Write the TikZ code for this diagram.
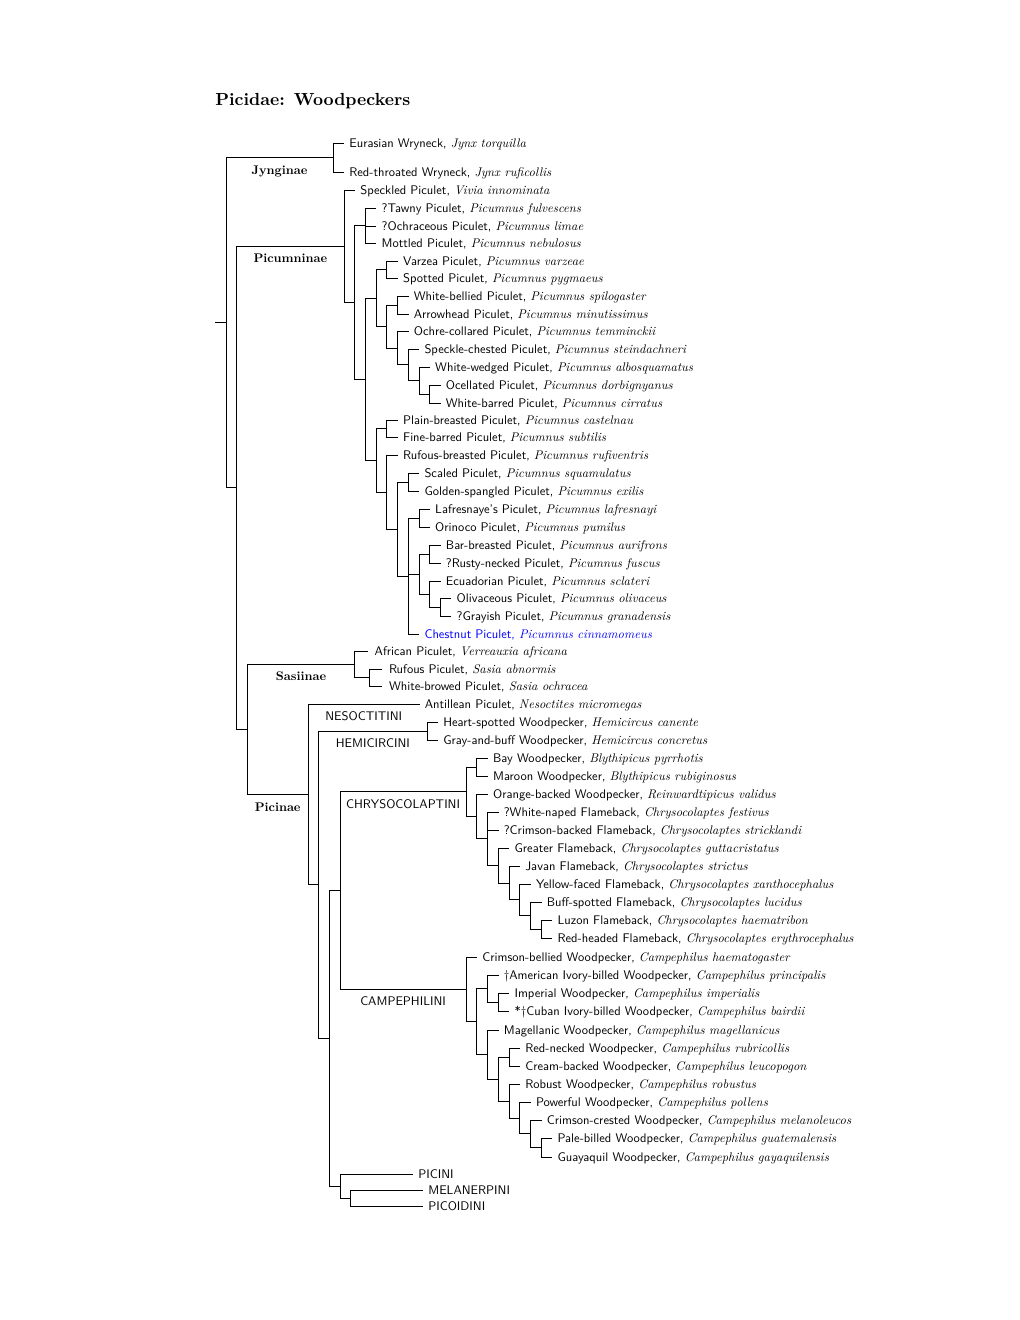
\documentclass[tikz,border=0pt]{standalone}
\usepackage{amsmath,amssymb}
\usepackage{graphicx}
\usepackage{tikz}

\newcommand{\smtxt}[1]{\scalebox{.75}{#1}}
\newcommand{\bird}[2]{\smtxt{\textsf{#1,} \textit{#2}}}

\begin{document}
\begin{tikzpicture}[x=0.6pt,y=-0.6pt,
  leaf/.style={anchor=west,inner xsep=3pt,inner ysep=0pt,text height=6pt,text depth=0.4pt,font=\fontsize{10}{12}\selectfont},
  grp/.style={anchor=base,yshift=-10pt,inner sep=0pt,font=\fontsize{10}{12}\selectfont\bfseries},
  tribe/.style={anchor=base,yshift=-10pt,inner sep=0pt,font=\fontsize{10}{12}\selectfont\sffamily}]
\useasboundingbox (0,0) rectangle (1020,1320);

\node[anchor=base west,inner sep=0pt,font=\fontsize{10.5}{12}\selectfont\bfseries] (title) at (215,105) {Picidae: Woodpeckers};

% inner nodes
\coordinate (base) at (215,322.6);
\coordinate (root) at (226,322.6);
\coordinate (jyn) at (333,157.5);
\coordinate (v2) at (236.7,487.7);
\coordinate (v3) at (247.4,729.3);
\coordinate (pcm) at (344,246.15);
\coordinate (a1) at (354.7,302.3);
\coordinate (t1) at (365.4,225.5);
\coordinate (b1) at (365.4,379.1);
\coordinate (c1) at (376.1,298);
\coordinate (vp) at (386.8,269.5);
\coordinate (e1) at (386.8,326.45);
\coordinate (wb) at (397.5,305);
\coordinate (o1) at (397.5,347.9);
\coordinate (o2) at (408.2,364.75);
\coordinate (o3) at (418.9,380.5);
\coordinate (o4) at (429.6,394);
\coordinate (d1) at (376.1,460.25);
\coordinate (pp) at (386.8,428.5);
\coordinate (g1) at (386.8,492);
\coordinate (h1) at (397.5,529);
\coordinate (sp) at (408.2,482);
\coordinate (i1) at (408.2,576);
\coordinate (lp) at (418.9,518);
\coordinate (f1) at (418.9,574);
\coordinate (bp) at (429.6,554);
\coordinate (ec) at (429.6,594);
\coordinate (op) at (440.3,607);
\coordinate (sas) at (354.7,664.25);
\coordinate (sa) at (369,677.5);
\coordinate (pcn) at (308,794.4);
\coordinate (p2) at (318.7,884.75);
\coordinate (hem) at (427,731);
\coordinate (p3) at (329.4,1038.5);
\coordinate (p4) at (340.1,890.5);
\coordinate (chr) at (466,791.7);
\coordinate (bb) at (476.75,767);
\coordinate (c2) at (476.75,816.35);
\coordinate (c3) at (487.5,838.7);
\coordinate (c4) at (498.25,865.4);
\coordinate (c5) at (509,882.9);
\coordinate (c6) at (519.75,899.75);
\coordinate (c7) at (530.5,915.5);
\coordinate (c8) at (541.25,929);
\coordinate (cmp) at (466,989.25);
\coordinate (k1) at (476.75,1021.5);
\coordinate (k2) at (487.5,988.5);
\coordinate (k4) at (498.25,1002);
\coordinate (k3) at (487.5,1054.5);
\coordinate (k5) at (498.25,1079);
\coordinate (rn) at (509,1057);
\coordinate (k6) at (509,1101);
\coordinate (k7) at (519.75,1117.9);
\coordinate (k8) at (530.5,1133.75);
\coordinate (k9) at (541.25,1147.5);
\coordinate (p5) at (340.1,1186);
\coordinate (pm) at (350.8,1198);

% Jynginae
\node[leaf] (eur) at (344,143) {\bird{Eurasian Wryneck}{Jynx torquilla}};
\node[leaf] (rtw) at (344,172) {\bird{Red-throated Wryneck}{Jynx ruficollis}};
% Picumninae
\node[leaf] (spk) at (355,190) {\bird{Speckled Piculet}{Vivia innominata}};
\node[leaf] (taw) at (376.4,208) {\bird{?Tawny Piculet}{Picumnus fulvescens}};
\node[leaf] (och) at (376.4,226) {\bird{?Ochraceous Piculet}{Picumnus limae}};
\node[leaf] (mot) at (376.4,243) {\bird{Mottled Piculet}{Picumnus nebulosus}};
\node[leaf] (var) at (397.8,261) {\bird{Varzea Piculet}{Picumnus varzeae}};
\node[leaf] (spo) at (397.8,278) {\bird{Spotted Piculet}{Picumnus pygmaeus}};
\node[leaf] (wbe) at (408.5,296) {\bird{White-bellied Piculet}{Picumnus spilogaster}};
\node[leaf] (arr) at (408.5,314) {\bird{Arrowhead Piculet}{Picumnus minutissimus}};
\node[leaf] (occ) at (408.5,331) {\bird{Ochre-collared Piculet}{Picumnus temminckii}};
\node[leaf] (spc) at (419.2,349) {\bird{Speckle-chested Piculet}{Picumnus steindachneri}};
\node[leaf] (wwe) at (429.9,367) {\bird{White-wedged Piculet}{Picumnus albosquamatus}};
\node[leaf] (oce) at (440.6,385) {\bird{Ocellated Piculet}{Picumnus dorbignyanus}};
\node[leaf] (wba) at (440.6,403) {\bird{White-barred Piculet}{Picumnus cirratus}};
\node[leaf] (plb) at (397.8,420) {\bird{Plain-breasted Piculet}{Picumnus castelnau}};
\node[leaf] (fib) at (397.8,437) {\bird{Fine-barred Piculet}{Picumnus subtilis}};
\node[leaf] (rub) at (397.8,455) {\bird{Rufous-breasted Piculet}{Picumnus rufiventris}};
\node[leaf] (sca) at (419.2,473) {\bird{Scaled Piculet}{Picumnus squamulatus}};
\node[leaf] (gos) at (419.2,491) {\bird{Golden-spangled Piculet}{Picumnus exilis}};
\node[leaf] (laf) at (429.9,509) {\bird{Lafresnaye's Piculet}{Picumnus lafresnayi}};
\node[leaf] (ori) at (429.9,527) {\bird{Orinoco Piculet}{Picumnus pumilus}};
\node[leaf] (bab) at (440.6,545) {\bird{Bar-breasted Piculet}{Picumnus aurifrons}};
\node[leaf] (run) at (440.6,563) {\bird{?Rusty-necked Piculet}{Picumnus fuscus}};
\node[leaf] (ecu) at (440.6,581) {\bird{Ecuadorian Piculet}{Picumnus sclateri}};
\node[leaf] (oli) at (451.3,598) {\bird{Olivaceous Piculet}{Picumnus olivaceus}};
\node[leaf] (gra) at (451.3,616) {\bird{?Grayish Piculet}{Picumnus granadensis}};
\node[leaf,text=blue] (che) at (419.2,634) {\bird{Chestnut Piculet}{Picumnus cinnamomeus}};
% Sasiinae
\node[leaf,inner xsep=4pt] (afr) at (367.7,651) {\bird{African Piculet}{Verreauxia africana}};
\node[leaf,inner xsep=4pt] (rup) at (382,669) {\bird{Rufous Piculet}{Sasia abnormis}};
\node[leaf,inner xsep=4pt] (wbr) at (382,686) {\bird{White-browed Piculet}{Sasia ochracea}};
% Picinae
\node[leaf] (ant) at (419.5,704) {\bird{Antillean Piculet}{Nesoctites micromegas}};
\node[leaf] (hsp) at (438,722) {\bird{Heart-spotted Woodpecker}{Hemicircus canente}};
\node[leaf] (gab) at (438,740) {\bird{Gray-and-buff Woodpecker}{Hemicircus concretus}};
\node[leaf] (bay) at (487.75,758) {\bird{Bay Woodpecker}{Blythipicus pyrrhotis}};
\node[leaf] (mar) at (487.75,776) {\bird{Maroon Woodpecker}{Blythipicus rubiginosus}};
\node[leaf] (obw) at (487.75,794) {\bird{Orange-backed Woodpecker}{Reinwardtipicus validus}};
\node[leaf] (wnf) at (498.5,812) {\bird{?White-naped Flameback}{Chrysocolaptes festivus}};
\node[leaf] (cbf) at (498.5,830) {\bird{?Crimson-backed Flameback}{Chrysocolaptes stricklandi}};
\node[leaf] (grf) at (509.25,848) {\bird{Greater Flameback}{Chrysocolaptes guttacristatus}};
\node[leaf] (jaf) at (520,866) {\bird{Javan Flameback}{Chrysocolaptes strictus}};
\node[leaf] (yff) at (530.75,884) {\bird{Yellow-faced Flameback}{Chrysocolaptes xanthocephalus}};
\node[leaf] (bsf) at (541.5,902) {\bird{Buff-spotted Flameback}{Chrysocolaptes lucidus}};
\node[leaf] (luf) at (552.25,920) {\bird{Luzon Flameback}{Chrysocolaptes haematribon}};
\node[leaf] (rhf) at (552.25,938) {\bird{Red-headed Flameback}{Chrysocolaptes erythrocephalus}};
\node[leaf] (cbw) at (477,957) {\bird{Crimson-bellied Woodpecker}{Campephilus haematogaster}};
\node[leaf] (aib) at (498.5,975) {\bird{\textdagger American Ivory-billed Woodpecker}{Campephilus principalis}};
\node[leaf] (imp) at (509.25,993) {\bird{Imperial Woodpecker}{Campephilus imperialis}};
\node[leaf] (cib) at (509.25,1011) {\bird{*\textdagger Cuban Ivory-billed Woodpecker}{Campephilus bairdii}};
\node[leaf] (mag) at (498.5,1030) {\bird{Magellanic Woodpecker}{Campephilus magellanicus}};
\node[leaf] (rnw) at (520,1048) {\bird{Red-necked Woodpecker}{Campephilus rubricollis}};
\node[leaf] (cbk) at (520,1066) {\bird{Cream-backed Woodpecker}{Campephilus leucopogon}};
\node[leaf] (rob) at (520,1084) {\bird{Robust Woodpecker}{Campephilus robustus}};
\node[leaf] (pow) at (530.75,1102) {\bird{Powerful Woodpecker}{Campephilus pollens}};
\node[leaf] (ccw) at (541.5,1120) {\bird{Crimson-crested Woodpecker}{Campephilus melanoleucos}};
\node[leaf] (pbw) at (552.25,1138) {\bird{Pale-billed Woodpecker}{Campephilus guatemalensis}};
\node[leaf] (gua) at (552.25,1157) {\bird{Guayaquil Woodpecker}{Campephilus gayaquilensis}};
\node[leaf,font=\fontsize{10}{12}\selectfont\sffamily] (pici) at (413,1174) {\smtxt{PICINI}};
\node[leaf,font=\fontsize{10}{12}\selectfont\sffamily] (mela) at (423,1190) {\smtxt{MELANERPINI}};
\node[leaf,font=\fontsize{10}{12}\selectfont\sffamily] (pico) at (423,1206) {\smtxt{PICOIDINI}};

% subfamilies
\draw (base) -- (root);
\draw (root) |- (jyn) node[grp,pos=.75] (lJyn) {\smtxt{Jynginae}};
\draw (root) |- (v2);
\draw (jyn) |- (eur.west); \draw (jyn) |- (rtw.west);
\draw (v2) |- (pcm) node[grp,pos=.75] (lPcm) {\smtxt{Picumninae}};
\draw (v2) |- (v3);
\draw (v3) |- (sas) node[grp,pos=.75] (lSas) {\smtxt{Sasiinae}};
\draw (v3) |- (pcn) node[grp,pos=.75] (lPcn) {\smtxt{Picinae}};

% Picumninae
\draw (pcm) |- (spk.west); \draw (pcm) |- (a1);
\draw (a1) |- (t1); \draw (a1) |- (b1);
\draw (t1) |- (taw.west); \draw (t1) |- (och.west); \draw (t1) |- (mot.west);
\draw (b1) |- (c1); \draw (b1) |- (d1);
\draw (c1) |- (vp); \draw (c1) |- (e1);
\draw (vp) |- (var.west); \draw (vp) |- (spo.west);
\draw (e1) |- (wb); \draw (e1) |- (o1);
\draw (wb) |- (wbe.west); \draw (wb) |- (arr.west);
\draw (o1) |- (occ.west); \draw (o1) |- (o2);
\draw (o2) |- (spc.west); \draw (o2) |- (o3);
\draw (o3) |- (wwe.west); \draw (o3) |- (o4);
\draw (o4) |- (oce.west); \draw (o4) |- (wba.west);
\draw (d1) |- (pp); \draw (d1) |- (g1);
\draw (pp) |- (plb.west); \draw (pp) |- (fib.west);
\draw (g1) |- (rub.west); \draw (g1) |- (h1);
\draw (h1) |- (sp); \draw (h1) |- (i1);
\draw (sp) |- (sca.west); \draw (sp) |- (gos.west);
\draw (i1) |- (lp); \draw (i1) |- (f1); \draw (i1) |- (che.west);
\draw (lp) |- (laf.west); \draw (lp) |- (ori.west);
\draw (f1) |- (bp); \draw (f1) |- (ec);
\draw (bp) |- (bab.west); \draw (bp) |- (run.west);
\draw (ec) |- (ecu.west); \draw (ec) |- (op);
\draw (op) |- (oli.west); \draw (op) |- (gra.west);

% Sasiinae
\draw (sas) |- (afr.west); \draw (sas) |- (sa);
\draw (sa) |- (rup.west); \draw (sa) |- (wbr.west);

% Picinae
\draw (pcn) |- (ant.west) node[tribe,pos=.75] (lNes) {\smtxt{NESOCTITINI}};
\draw (pcn) |- (p2);
\draw (p2) |- (hem) node[tribe,pos=.75] (lHem) {\smtxt{HEMICIRCINI}};
\draw (p2) |- (p3);
\draw (hem) |- (hsp.west); \draw (hem) |- (gab.west);
\draw (p3) |- (p4); \draw (p3) |- (p5);
\draw (p4) |- (chr) node[tribe,pos=.75] (lChr) {\smtxt{CHRYSOCOLAPTINI}};
\draw (p4) |- (cmp) node[tribe,pos=.75] (lCmp) {\smtxt{CAMPEPHILINI}};
\draw (chr) |- (bb); \draw (chr) |- (c2);
\draw (bb) |- (bay.west); \draw (bb) |- (mar.west);
\draw (c2) |- (obw.west); \draw (c2) |- (c3);
\draw (c3) |- (wnf.west); \draw (c3) |- (cbf.west); \draw (c3) |- (c4);
\draw (c4) |- (grf.west); \draw (c4) |- (c5);
\draw (c5) |- (jaf.west); \draw (c5) |- (c6);
\draw (c6) |- (yff.west); \draw (c6) |- (c7);
\draw (c7) |- (bsf.west); \draw (c7) |- (c8);
\draw (c8) |- (luf.west); \draw (c8) |- (rhf.west);
\draw (cmp) |- (cbw.west); \draw (cmp) |- (k1);
\draw (k1) |- (k2); \draw (k1) |- (k3);
\draw (k2) |- (aib.west); \draw (k2) |- (k4);
\draw (k4) |- (imp.west); \draw (k4) |- (cib.west);
\draw (k3) |- (mag.west); \draw (k3) |- (k5);
\draw (k5) |- (rn); \draw (k5) |- (k6);
\draw (rn) |- (rnw.west); \draw (rn) |- (cbk.west);
\draw (k6) |- (rob.west); \draw (k6) |- (k7);
\draw (k7) |- (pow.west); \draw (k7) |- (k8);
\draw (k8) |- (ccw.west); \draw (k8) |- (k9);
\draw (k9) |- (pbw.west); \draw (k9) |- (gua.west);
\draw (p5) |- (pici.west); \draw (p5) |- (pm);
\draw (pm) |- (mela.west); \draw (pm) |- (pico.west);
\end{tikzpicture}
\end{document}
